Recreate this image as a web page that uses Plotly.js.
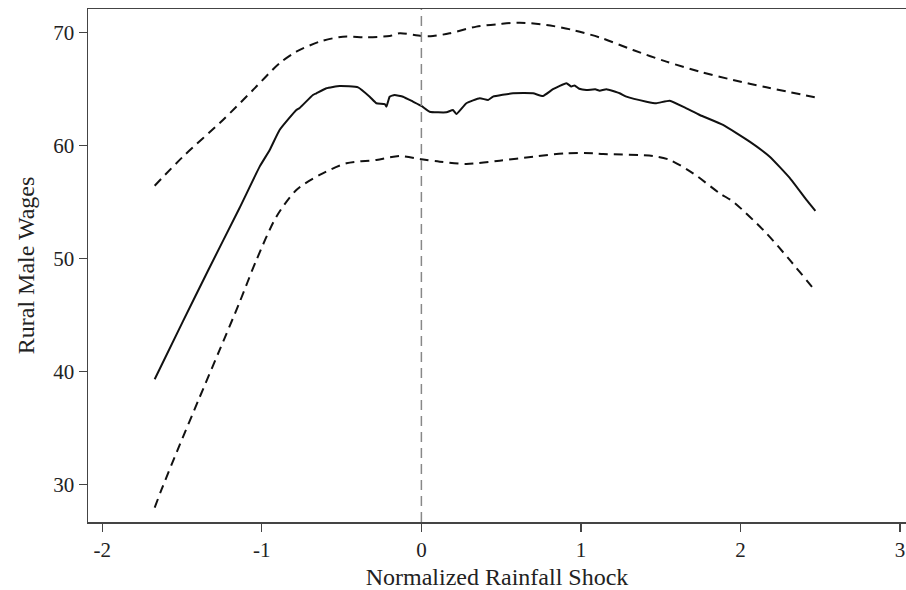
<!DOCTYPE html>
<html>
<head>
<meta charset="utf-8">
<script src="https://cdn.plot.ly/plotly-3.0.1.min.js"></script>
<style>html,body{margin:0;padding:0;background:#fff;}#chart{width:906px;height:590px;}</style>
</head>
<body>
<div id="chart"></div>
<script>
// Point estimate (solid)
var estX = [-1.672,-1.495,-1.338,-1.140,-1.014,-0.951,-0.889,-0.784,-0.763,-0.680,-0.658,-0.596,-0.512,-0.397,-0.324,-0.282,-0.230,-0.219,-0.199,-0.168,-0.115,-0.053,0.000,0.052,0.157,0.198,0.219,0.282,0.366,0.418,0.449,0.574,0.700,0.762,0.825,0.909,0.940,0.960,0.990,1.034,1.090,1.118,1.160,1.243,1.285,1.411,1.473,1.557,1.661,1.745,1.891,2.058,2.184,2.309,2.414,2.470];
var estY = [39.29,44.42,48.90,54.45,58.11,59.58,61.35,63.12,63.30,64.45,64.60,65.04,65.25,65.13,64.30,63.72,63.65,63.42,64.30,64.45,64.30,63.86,63.48,62.97,62.92,63.12,62.77,63.72,64.16,64.01,64.30,64.60,64.60,64.36,64.96,65.49,65.20,65.30,65.00,64.89,64.95,64.83,64.96,64.60,64.30,63.86,63.72,63.95,63.27,62.68,61.80,60.32,58.99,57.11,55.16,54.19];
// Upper confidence bound (dashed)
var upX = [-1.672,-1.495,-1.244,-1.056,-0.889,-0.784,-0.638,-0.492,-0.345,-0.199,-0.136,0.000,0.073,0.177,0.345,0.491,0.617,0.784,0.950,1.118,1.327,1.536,1.745,1.954,2.163,2.466];
var upY = [56.42,58.99,62.24,64.89,67.26,68.28,69.17,69.61,69.56,69.67,69.91,69.67,69.67,69.91,70.50,70.73,70.85,70.65,70.20,69.54,68.43,67.40,66.51,65.78,65.13,64.25];
// Lower confidence bound (dashed)
var loX = [-1.672,-1.630,-1.519,-1.394,-1.268,-1.143,-1.034,-0.909,-0.784,-0.638,-0.470,-0.282,-0.136,0.000,0.115,0.282,0.491,0.700,0.909,1.076,1.139,1.452,1.557,1.703,1.870,1.954,2.163,2.309,2.470];
var loY = [27.93,29.50,33.35,37.57,41.78,45.99,49.85,53.68,56.04,57.37,58.41,58.70,59.05,58.76,58.55,58.35,58.64,58.99,59.29,59.29,59.23,59.05,58.70,57.52,55.75,55.01,52.21,49.85,47.11];
var xTicks = [-2,-1,0,1,2,3];
var yTicks = [30,40,50,60,70];
var refX = 0;

var dashStyle = {color: '#111', width: 2, dash: '9px,6px', shape: 'spline', smoothing: 0.8};
var traces = [
  {x: upX, y: upY, mode: 'lines', line: dashStyle, hoverinfo: 'skip'},
  {x: estX, y: estY, mode: 'lines', line: {color: '#111', width: 2, shape: 'spline', smoothing: 0.4}, hoverinfo: 'skip'},
  {x: loX, y: loY, mode: 'lines', line: dashStyle, hoverinfo: 'skip'}
];
var fam = '"Liberation Serif", "Times New Roman", serif';
var layout = {
  width: 906, height: 590,
  margin: {l: 88, r: 0, t: 9, b: 68},
  paper_bgcolor: '#fff', plot_bgcolor: '#fff',
  showlegend: false,
  font: {family: fam, color: '#222'},
  xaxis: {
    range: [-2.09, 3.038], tickvals: xTicks, ticktext: xTicks.map(String),
    showgrid: false, zeroline: false, showline: true, mirror: true,
    linecolor: '#444', linewidth: 1.5, ticks: 'outside', ticklen: 8, tickcolor: '#444', tickwidth: 1.2,
    tickfont: {family: fam, size: 21, color: '#222'},
    title: {text: 'Normalized Rainfall Shock', font: {family: fam, size: 24, color: '#222'}, standoff: 8}
  },
  yaxis: {
    range: [26.66, 72.06], tickvals: yTicks, ticktext: yTicks.map(String),
    showgrid: false, zeroline: false, showline: true,
    linecolor: '#444', linewidth: 1.5, ticks: 'outside', ticklen: 8, tickcolor: '#444', tickwidth: 1.2,
    tickfont: {family: fam, size: 21, color: '#222'},
    title: {text: 'Rural Male Wages', font: {family: fam, size: 24, color: '#222'}, standoff: 12}
  },
  shapes: [{type: 'line', xref: 'x', yref: 'paper', x0: refX, x1: refX, y0: 0, y1: 1,
            line: {color: '#888', width: 1.5, dash: '10px,6px'}}]
};
Plotly.newPlot('chart', traces, layout, {staticPlot: true, displayModeBar: false});
</script>
</body>
</html>
